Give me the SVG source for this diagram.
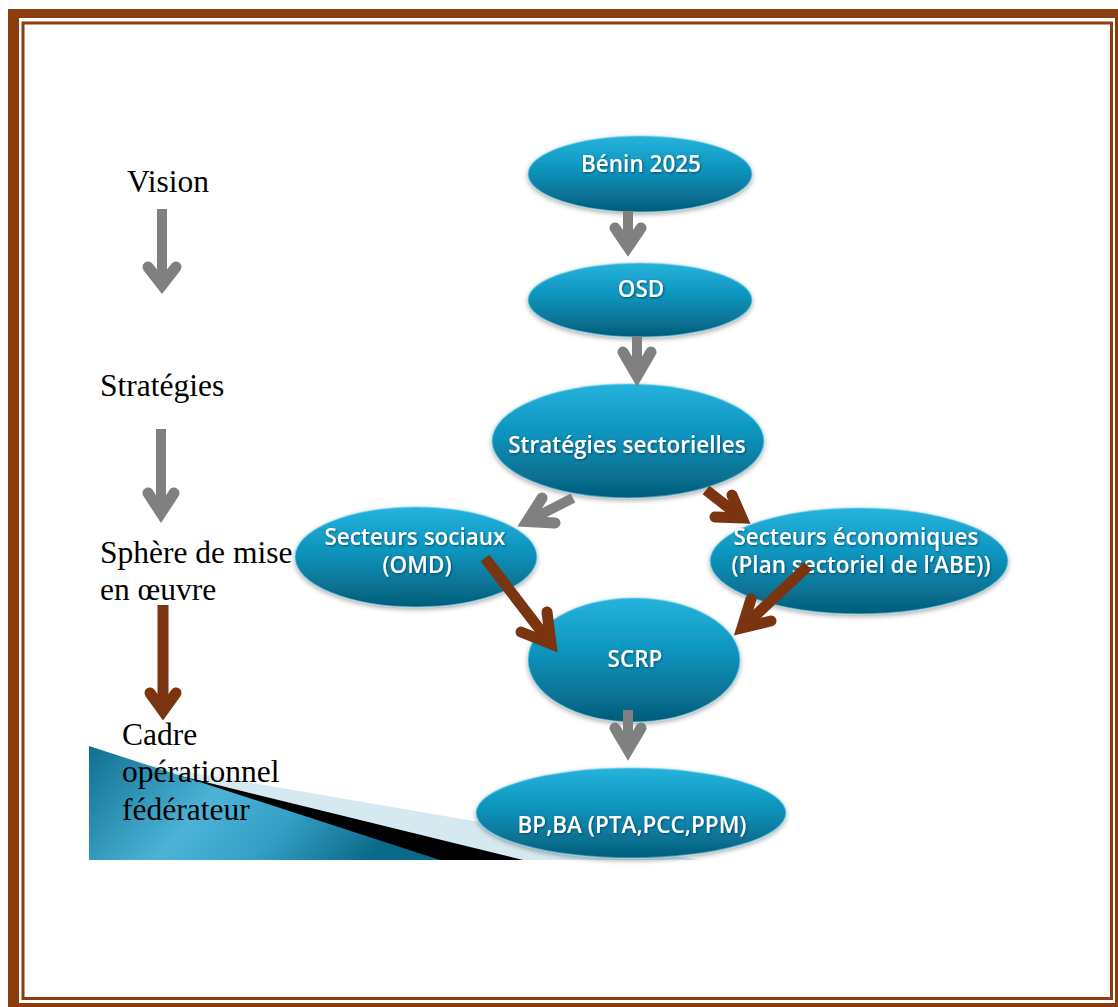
<svg xmlns="http://www.w3.org/2000/svg" width="1118" height="1007" viewBox="0 0 1118 1007">
<defs>
<linearGradient id="gEll" x1="0" y1="0" x2="0" y2="1">
<stop offset="0" stop-color="#26b3dd"/>
<stop offset="0.45" stop-color="#0b93bc"/>
<stop offset="1" stop-color="#055d7a"/>
</linearGradient>
<linearGradient id="gWedge" x1="0" y1="0" x2="1" y2="0.3">
<stop offset="0" stop-color="#0f6f90"/>
<stop offset="0.45" stop-color="#4cb3d7"/>
<stop offset="0.7" stop-color="#349fc6"/>
<stop offset="1" stop-color="#0c6a89"/>
</linearGradient>
<filter id="sh" x="-20%" y="-20%" width="140%" height="150%">
<feDropShadow dx="0" dy="2" stdDeviation="2.5" flood-color="#000" flood-opacity="0.35"/>
</filter>
<filter id="tsh" x="-10%" y="-30%" width="120%" height="160%">
<feDropShadow dx="1" dy="1" stdDeviation="0.8" flood-color="#03364a" flood-opacity="0.7"/>
</filter>
</defs>
<style>
.ell{fill:url(#gEll);stroke:#7fd3ec;stroke-opacity:0.5;stroke-width:1.5;filter:url(#sh)}
.lbl{font-family:"Open Sans","DejaVu Sans",sans-serif;font-weight:600;font-size:22.5px;fill:#fff;text-anchor:middle;filter:url(#tsh)}
.side{font-family:"Liberation Serif","Times New Roman",serif;font-size:31.5px;fill:#000}
.gs{stroke:#808080;fill:none;stroke-width:10}
.gh{stroke:#808080;fill:none;stroke-width:11;stroke-linecap:round;stroke-linejoin:miter;stroke-miterlimit:10}
.bs{stroke:#7a3410;fill:none;stroke-width:11}
.bh{stroke:#7a3410;fill:none;stroke-width:11;stroke-linecap:round;stroke-linejoin:miter;stroke-miterlimit:10}
</style>
<rect x="0" y="0" width="1118" height="1007" fill="#fff"/>
<g id="border">
<path d="M8 9 H1130 V1020 H8 Z M19 18 V1003 H1115 V18 Z" fill="#8b3d0f" fill-rule="evenodd"/>
<rect x="23" y="23" width="1088.5" height="975.5" fill="none" stroke="#8b3d0f" stroke-width="3"/>
</g>
<g id="wedge">
<polygon points="108,758 700,860 89,860" fill="#d6e9f1"/>
<polygon points="108,758 523,860 89,860" fill="#000"/>
<polygon points="89,746 440,860 89,860" fill="url(#gWedge)"/>
</g>
<g id="side-labels">
<text class="side" x="127" y="192">Vision</text>
<text class="side" x="100" y="396">Stratégies</text>
<text class="side" x="100" y="563">Sphère de mise</text>
<text class="side" x="100" y="600">en œuvre</text>
<text class="side" x="122" y="745">Cadre</text>
<text class="side" x="122" y="782">opérationnel</text>
<text class="side" x="122" y="820">fédérateur</text>
</g>
<g id="node-benin">
<ellipse class="ell" cx="640" cy="174" rx="112" ry="38"/>
<text class="lbl" x="641" y="172">Bénin 2025</text>
</g>
<g id="node-osd">
<ellipse class="ell" cx="640" cy="300" rx="112" ry="37"/>
<text class="lbl" x="641" y="297">OSD</text>
</g>
<g id="node-strategies">
<ellipse class="ell" cx="628" cy="441" rx="136" ry="57"/>
<text class="lbl" x="627" y="453">Stratégies sectorielles</text>
</g>
<g id="node-sociaux">
<ellipse class="ell" cx="416" cy="557" rx="121" ry="50"/>
<text class="lbl" x="415" y="545">Secteurs sociaux</text>
<text class="lbl" x="417" y="573">(OMD)</text>
</g>
<g id="node-economiques">
<ellipse class="ell" cx="859" cy="561" rx="149" ry="53"/>
<text class="lbl" x="856" y="545">Secteurs économiques</text>
<text class="lbl" x="861" y="573">(Plan sectoriel de l’ABE))</text>
</g>
<g id="node-scrp">
<ellipse class="ell" cx="634" cy="660" rx="106" ry="62"/>
<text class="lbl" x="635" y="667">SCRP</text>
</g>
<g id="node-bp">
<ellipse class="ell" cx="631" cy="813" rx="155" ry="45"/>
<text class="lbl" x="632" y="833">BP,BA (PTA,PCC,PPM)</text>
</g>
<g id="connectors">
<line class="gs" x1="628" y1="211" x2="628" y2="246"/>
<polyline class="gh" points="615,228 628,247 641,228"/>
<line class="gs" x1="637" y1="336" x2="637" y2="375"/>
<polyline class="gh" points="623,352 637,376 651,352"/>
<line class="gs" x1="573" y1="498" x2="527" y2="521.5"/>
<polyline class="gh" points="542,498 527,521.5 555,523"/>
<line class="bs" x1="706" y1="490" x2="742" y2="518"/>
<polyline class="bh" points="732,495 742,518 715,517"/>
<line class="bs" x1="485" y1="558" x2="551" y2="644"/>
<polyline class="bh" points="547,612 551,644 521,632"/>
<line class="bs" x1="808" y1="566" x2="742" y2="628"/>
<polyline class="bh" points="751,599 742,628 771,621"/>
<line class="gs" x1="628" y1="710" x2="628" y2="749"/>
<polyline class="gh" points="615,728 628,750 641,728"/>
<line class="gs" x1="162" y1="209" x2="162" y2="284"/>
<polyline class="gh" points="148,267 162,285 176,267"/>
<line class="gs" x1="161" y1="429" x2="161" y2="512"/>
<polyline class="gh" points="148,493 161,513 174,493"/>
<line class="bs" x1="163" y1="605" x2="163" y2="710"/>
<polyline class="bh" points="150,693 163,711 176,693"/>
</g>
</svg>
